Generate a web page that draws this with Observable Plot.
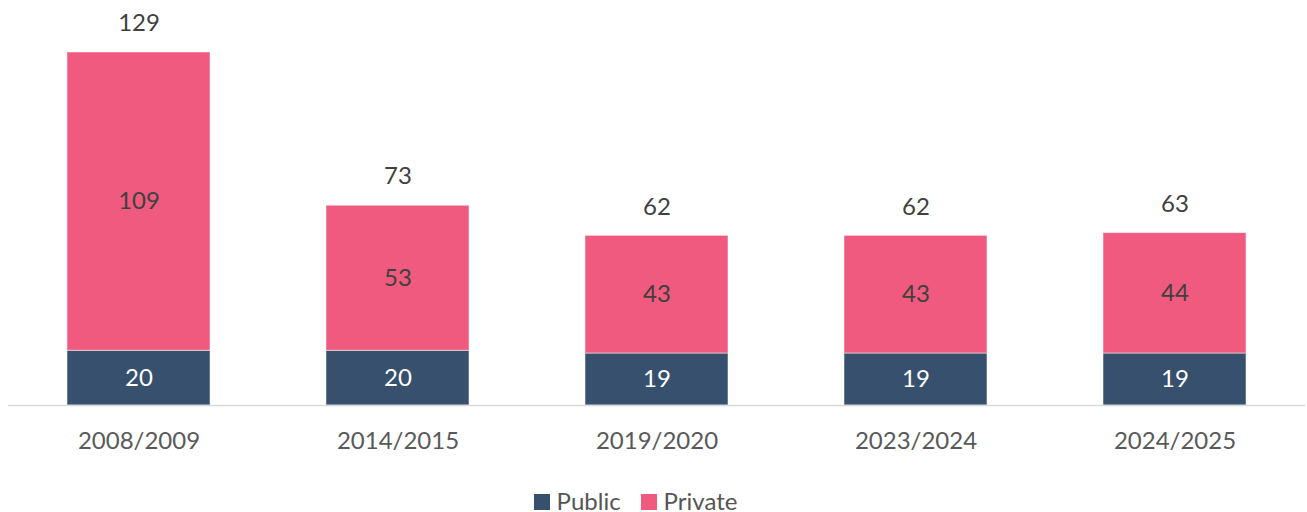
<!DOCTYPE html>
<html>
<head>
<meta charset="utf-8">
<script src="https://cdn.jsdelivr.net/npm/d3@7"></script>
<script src="https://cdn.jsdelivr.net/npm/@observablehq/plot@0.6"></script>
<style>
  html, body { margin: 0; padding: 0; background: #fff; }
  body { width: 1307px; height: 512px; overflow: hidden; font-family: Lato, "Noto Sans", sans-serif; }
  #legend { display: flex; justify-content: center; align-items: center; gap: 20px; height: 42px; padding-top: 9px; margin-left: -36px; font-size: 24px; color: #555; }
  #legend .item { display: flex; align-items: center; gap: 7px; }
  #legend .sw { width: 16px; height: 16px; display: inline-block; margin-top: 3px; }
</style>
</head>
<body>
<div id="chart"></div>
<div id="legend"></div>
<script>
const years = ["2008/2009", "2014/2015", "2019/2020", "2023/2024", "2024/2025"];
const publicVals = [20, 20, 19, 19, 19];
const privateVals = [109, 53, 43, 43, 44];
const totals = [129, 73, 62, 62, 63];
const seriesNames = ["Public", "Private"];
const seriesColors = ["#36506e", "#f05a7e"];

const rows = [];
years.forEach((yr, i) => {
  rows.push({year: yr, series: "Public", value: publicVals[i]});
  rows.push({year: yr, series: "Private", value: privateVals[i]});
});
const totalRows = years.map((yr, i) => ({year: yr, total: totals[i]}));

const chart = Plot.plot({
  width: 1307,
  height: 470,
  marginTop: 52,
  marginBottom: 65,
  marginLeft: 8,
  marginRight: 2,
  style: {fontFamily: "Lato, 'Noto Sans', sans-serif", fontSize: "24px", color: "#404040", background: "#fff"},
  x: {domain: years, paddingInner: 0.449, paddingOuter: 0.2245, label: null},
  y: {domain: [0, 129], axis: null},
  color: {domain: seriesNames, range: seriesColors},
  marks: [
    Plot.barY(rows, Plot.stackY({x: "year", y: "value", fill: "series", order: seriesNames, stroke: "#ffffff", strokeOpacity: 0.5, strokeWidth: 1})),
    Plot.ruleY([0], {stroke: "#d9d9d9", strokeWidth: 1.5}),
    Plot.text(rows, Plot.stackY({x: "year", y: "value", z: "series", order: seriesNames, text: d => String(d.value), fill: d => d.series === "Public" ? "#ffffff" : "#404040", fontSize: 24})),
    Plot.text(totalRows, {x: "year", y: "total", text: d => String(d.total), dy: -29, fill: "#404040", fontSize: 24}),
    Plot.axisX({tickSize: 0, tickPadding: 26, fontSize: 24, fill: "#595959", label: null})
  ]
});
document.getElementById("chart").appendChild(chart);

const legend = document.getElementById("legend");
seriesNames.forEach((name, i) => {
  const item = document.createElement("span");
  item.className = "item";
  const sw = document.createElement("span");
  sw.className = "sw";
  sw.style.background = seriesColors[i];
  const label = document.createElement("span");
  label.textContent = name;
  item.appendChild(sw);
  item.appendChild(label);
  legend.appendChild(item);
});
</script>
</body>
</html>
